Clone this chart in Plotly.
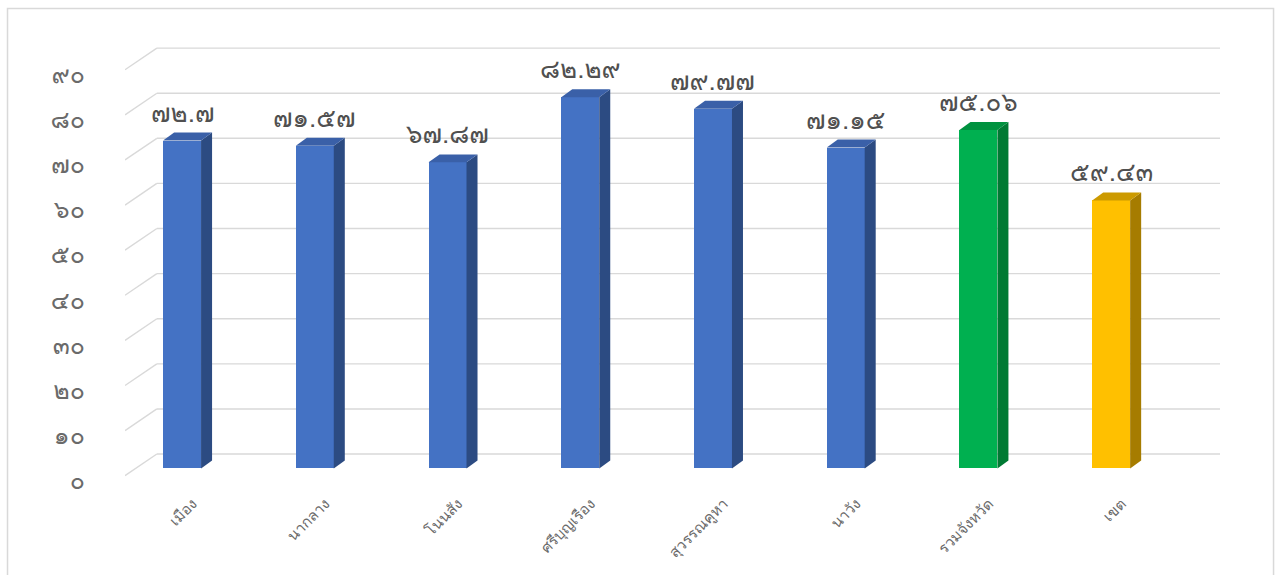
import plotly.graph_objects as go

# Scores by district (percent)
districts = ["เมือง", "นากลาง", "โนนสัง", "ศรีบุญเรือง", "สุวรรณคูหา", "นาวัง", "รวมจังหวัด", "เขต"]
scores = [72.7, 71.57, 67.87, 82.29, 79.77, 71.15, 75.06, 59.43]

# Face colours: front, top, right side
front_colors = ["#4472C4"] * 6 + ["#00B050", "#FFC000"]
top_colors = ["#3A60A8"] * 6 + ["#00923F", "#CC9A00"]
side_colors = ["#2C4B82"] * 6 + ["#007A33", "#A67C00"]

y_tick_values = [0, 10, 20, 30, 40, 50, 60, 70, 80, 90]

THAI_DIGITS = str.maketrans("0123456789", "๐๑๒๓๔๕๖๗๘๙")
THAI_FONT = "Garuda, Loma, Norasi, Noto Serif Thai, Noto Sans Thai, Tahoma, sans-serif"


def thai(num):
    return str(num).translate(THAI_DIGITS)


# Pseudo-3D geometry (axis units)
BAR_W = 0.286
DEPTH_X, DEPTH_Y = 0.083, 1.77       # bar depth
WALL_X0, WALL_X1 = -0.19, 7.82       # back wall horizontal extent
FRONT_X = -0.43                      # front edge of the floor
WALL_DY, FRONT_DY = 3.2, -1.6        # grid offsets at back wall / front edge
LABEL_DY = -2.6

fig = go.Figure()

# Front faces
fig.add_trace(go.Bar(
    x=list(range(len(scores))), y=scores, width=BAR_W,
    marker=dict(color=front_colors, line=dict(width=0)),
    hoverinfo="skip", showlegend=False,
))

# Side and top faces
for i, v in enumerate(scores):
    xl, xr = i - BAR_W / 2, i + BAR_W / 2
    fig.add_trace(go.Scatter(
        x=[xr, xr + DEPTH_X, xr + DEPTH_X, xr, xr],
        y=[0, DEPTH_Y, v + DEPTH_Y, v, 0],
        mode="lines", fill="toself", fillcolor=side_colors[i],
        line=dict(width=0), hoverinfo="skip", showlegend=False,
    ))
    fig.add_trace(go.Scatter(
        x=[xl, xr, xr + DEPTH_X, xl + DEPTH_X, xl],
        y=[v, v, v + DEPTH_Y, v + DEPTH_Y, v],
        mode="lines", fill="toself", fillcolor=top_colors[i],
        line=dict(width=0), hoverinfo="skip", showlegend=False,
    ))

# Back-wall gridlines with their floor diagonals
shapes = []
grid_line = dict(color="#D9D9D9", width=1.4)
for t in y_tick_values:
    shapes.append(dict(type="line", xref="x", yref="y", layer="below",
                       x0=WALL_X0, x1=WALL_X1, y0=t + WALL_DY, y1=t + WALL_DY,
                       line=grid_line))
    shapes.append(dict(type="line", xref="x", yref="y", layer="below",
                       x0=FRONT_X, x1=WALL_X0, y0=t + FRONT_DY, y1=t + WALL_DY,
                       line=grid_line))

# Chart frame
shapes.append(dict(type="rect", xref="paper", yref="paper", layer="below",
                   x0=-0.1073, x1=1.0489, y0=-0.3, y1=1.071,
                   line=dict(color="#D9D9D9", width=1.5)))

# Value labels
annotations = [
    dict(x=i, y=v, xref="x", yref="y", text=thai(v), showarrow=False,
         yanchor="bottom", yshift=6,
         font=dict(family=THAI_FONT, size=26, color="#505050"))
    for i, v in enumerate(scores)
]

fig.update_layout(
    width=1275, height=575,
    margin=dict(l=125, r=55, t=40, b=91),
    paper_bgcolor="white", plot_bgcolor="white",
    font=dict(family=THAI_FONT, color="#595959"),
    shapes=shapes, annotations=annotations,
    xaxis=dict(
        range=[FRONT_X, WALL_X1],
        tickvals=[i + 0.08 for i in range(len(districts))],
        ticktext=districts, tickangle=-45,
        tickfont=dict(family=THAI_FONT, size=15, color="#6A6A6A"),
        ticks="outside", ticklen=6, tickcolor="rgba(0,0,0,0)",
        showgrid=False, zeroline=False, showline=False,
    ),
    yaxis=dict(
        range=[-3, 95],
        tickvals=[t + LABEL_DY for t in y_tick_values],
        ticktext=[thai(t) for t in y_tick_values],
        tickfont=dict(family=THAI_FONT, size=25, color="#6A6A6A"),
        ticks="outside", ticklen=34, tickcolor="rgba(0,0,0,0)",
        showgrid=False, zeroline=False, showline=False,
    ),
    bargap=0,
)

fig.write_html("out.html")
